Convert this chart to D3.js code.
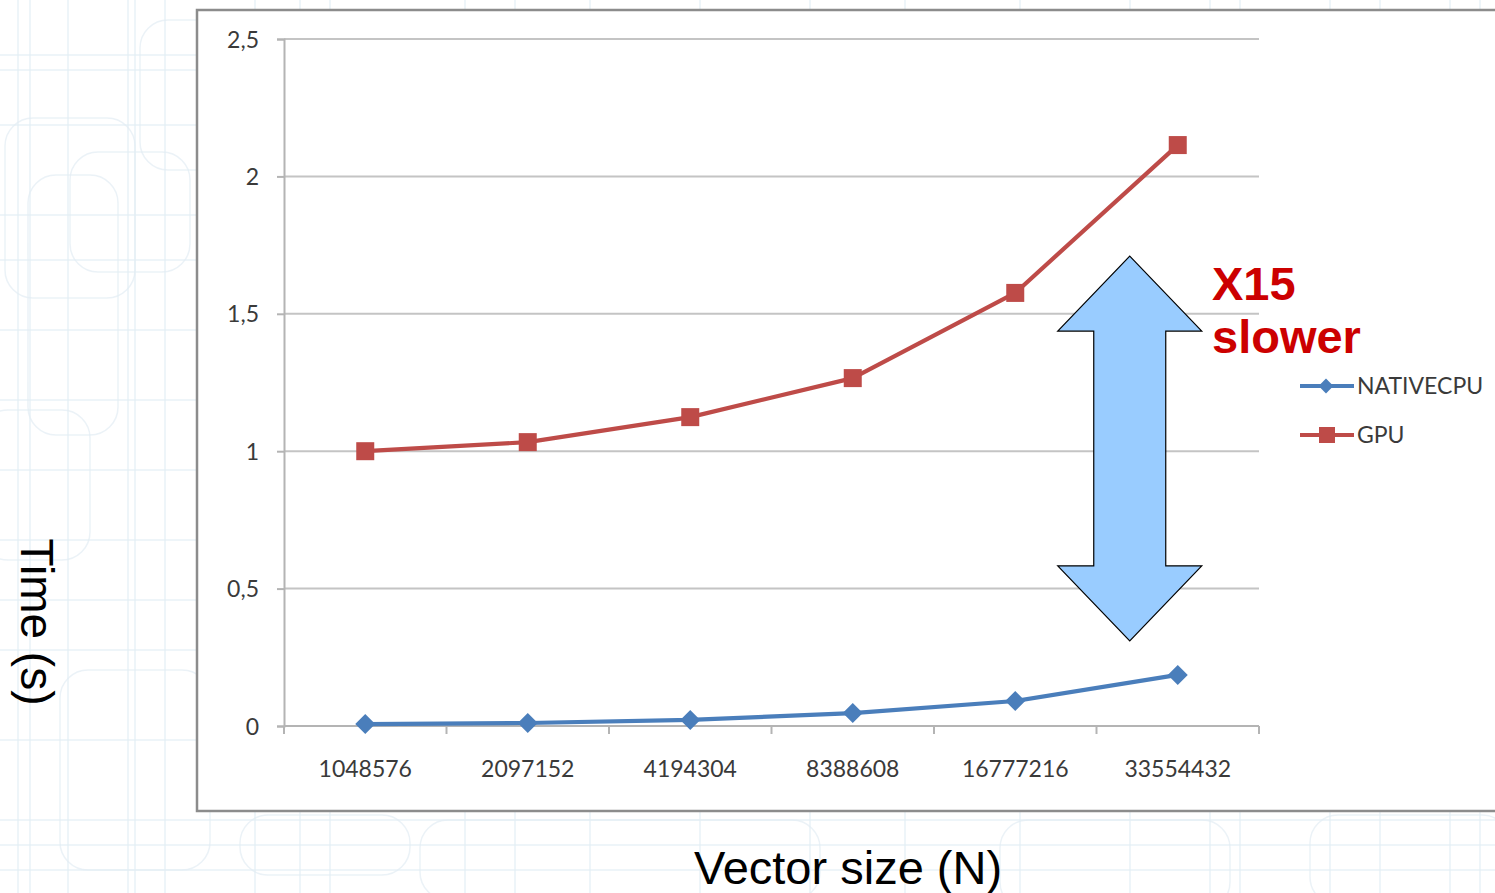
<!DOCTYPE html>
<html>
<head>
<meta charset="utf-8">
<script src="https://cdn.jsdelivr.net/npm/d3@7"></script>
<style>
  html, body { margin: 0; padding: 0; background: #ffffff; }
  svg { display: block; }
</style>
</head>
<body>
<svg id="chart" width="1495" height="893"></svg>
<script>
// Vector sizes (x categories) and measured run times in seconds
const categories = ["1048576", "2097152", "4194304", "8388608", "16777216", "33554432"];
const nativeCpu = [0.007, 0.011, 0.022, 0.047, 0.091, 0.186];
const gpu = [1.0, 1.033, 1.124, 1.266, 1.576, 2.114];
const yTicks = [0, 0.5, 1, 1.5, 2, 2.5];
const seriesNames = ["NATIVECPU", "GPU"];

const svg = d3.select("#chart");
const W = 1495, H = 893;

// ---- faint slide background pattern ----
const bg = svg.append("g").attr("fill", "none").attr("stroke", "#e2edf4").attr("stroke-width", 1.5);
const vLines = [18, 30, 68, 128, 135, 165, 255, 300, 330, 465, 515, 590, 700, 810, 905, 1020, 1130, 1210, 1240, 1330, 1380, 1450, 1480];
const hLines = [55, 70, 125, 215, 260, 330, 400, 470, 540, 600, 650, 740, 820, 845, 870];
vLines.forEach(x => bg.append("line").attr("x1", x).attr("x2", x).attr("y1", 0).attr("y2", H).attr("opacity", 0.75));
hLines.forEach(y => bg.append("line").attr("x1", 0).attr("x2", W).attr("y1", y).attr("y2", y).attr("opacity", 0.75));
const rounded = [[5, 118, 130, 180], [28, 175, 90, 260], [70, 152, 120, 120], [-20, 410, 110, 150], [60, 670, 150, 200],
                 [240, 815, 170, 60], [420, 820, 400, 80], [1000, 820, 230, 90], [1310, 815, 200, 90], [140, 20, 130, 150]];
rounded.forEach(r => bg.append("rect").attr("x", r[0]).attr("y", r[1]).attr("width", r[2]).attr("height", r[3]).attr("rx", 28).attr("opacity", 0.7));

// ---- chart frame ----
svg.append("rect")
  .attr("x", 197).attr("y", 10).attr("width", 1340).attr("height", 801)
  .attr("fill", "#ffffff").attr("stroke", "#8c8c8c").attr("stroke-width", 2.5);

// ---- scales ----
const x = d3.scaleBand().domain(categories).range([284, 1259]).padding(0);
const y = d3.scaleLinear().domain([0, 2.5]).range([726, 39]);
const cx = c => x(c) + x.bandwidth() / 2;

// gridlines
svg.append("g").selectAll("line").data(yTicks.filter(d => d > 0)).join("line")
  .attr("x1", 284).attr("x2", 1259)
  .attr("y1", d => y(d)).attr("y2", d => y(d))
  .attr("stroke", "#c4c4c4").attr("stroke-width", 2);

// y axis
const yAxis = svg.append("g").attr("transform", "translate(284,0)")
  .call(d3.axisLeft(y).tickValues(yTicks).tickSize(7).tickPadding(18)
    .tickFormat(d => String(d).replace(".", ",")));
yAxis.select(".domain").attr("stroke", "#b4b4b4").attr("stroke-width", 2);
yAxis.selectAll(".tick line").attr("stroke", "#b4b4b4").attr("stroke-width", 2);
yAxis.selectAll("text").attr("font-family", "Lato, 'Noto Sans', sans-serif").attr("font-size", 23)
  .attr("fill", "#3a3a3a").attr("dy", "0.35em");

// x axis with ticks between categories
const xAxis = svg.append("g").attr("transform", "translate(0,726)");
xAxis.append("line").attr("x1", 284).attr("x2", 1259).attr("y1", 0).attr("y2", 0)
  .attr("stroke", "#b4b4b4").attr("stroke-width", 2);
const boundaries = categories.map(c => x(c)).concat([x(categories[categories.length - 1]) + x.bandwidth()]);
xAxis.selectAll("line.tk").data(boundaries).join("line").attr("class", "tk")
  .attr("x1", d => d).attr("x2", d => d).attr("y1", 0).attr("y2", 8)
  .attr("stroke", "#b4b4b4").attr("stroke-width", 2);
xAxis.selectAll("text").data(categories).join("text")
  .attr("x", d => cx(d)).attr("y", 51)
  .attr("text-anchor", "middle")
  .attr("font-family", "Lato, 'Noto Sans', sans-serif").attr("font-size", 23)
  .attr("fill", "#3a3a3a").text(d => d);

// ---- series ----
const cpuColor = "#4a7ebb", gpuColor = "#be4b48";
const line = d3.line().x((d, i) => cx(categories[i])).y(d => y(d));

svg.append("path").datum(gpu).attr("d", line)
  .attr("fill", "none").attr("stroke", gpuColor).attr("stroke-width", 4.2).attr("stroke-linejoin", "round");
svg.append("g").selectAll("rect").data(gpu).join("rect")
  .attr("x", (d, i) => cx(categories[i]) - 9).attr("y", d => y(d) - 9)
  .attr("width", 18).attr("height", 18).attr("fill", gpuColor);

svg.append("path").datum(nativeCpu).attr("d", line)
  .attr("fill", "none").attr("stroke", cpuColor).attr("stroke-width", 4.2).attr("stroke-linejoin", "round");
const diamond = d3.symbol().type(d3.symbolSquare).size(200);
svg.append("g").selectAll("path").data(nativeCpu).join("path")
  .attr("d", diamond)
  .attr("transform", (d, i) => `translate(${cx(categories[i])},${y(d)}) rotate(45)`)
  .attr("fill", cpuColor);

// ---- legend ----
const legend = svg.append("g").attr("transform", "translate(1300,386)");
[[cpuColor, "diamond"], [gpuColor, "square"]].forEach((s, i) => {
  const g = legend.append("g").attr("transform", `translate(0,${i * 49})`);
  g.append("line").attr("x1", 0).attr("x2", 54).attr("y1", 0).attr("y2", 0)
    .attr("stroke", s[0]).attr("stroke-width", 4);
  if (s[1] === "diamond") {
    g.append("path").attr("d", d3.symbol().type(d3.symbolSquare).size(110))
      .attr("transform", "translate(26,0) rotate(45)").attr("fill", s[0]);
  } else {
    g.append("rect").attr("x", 19).attr("y", -8).attr("width", 16).attr("height", 16).attr("fill", s[0]);
  }
  g.append("text").attr("x", 57).attr("y", 0).attr("dy", "0.36em")
    .attr("font-family", "Lato, 'Noto Sans', sans-serif").attr("font-size", 23)
    .attr("fill", "#3a3a3a").text(seriesNames[i]);
});

// ---- double arrow annotation between the two series ----
const ax = cx(categories[categories.length - 1]) - 48;
const yTop = y(1.71), yBot = y(0.31);
const headH = 75, headW = 72, shaftW = 36;
const arrow = [
  [ax, yTop], [ax + headW, yTop + headH], [ax + shaftW, yTop + headH],
  [ax + shaftW, yBot - headH], [ax + headW, yBot - headH], [ax, yBot],
  [ax - headW, yBot - headH], [ax - shaftW, yBot - headH], [ax - shaftW, yTop + headH],
  [ax - headW, yTop + headH]
];
svg.append("path").attr("d", "M" + arrow.map(p => p.join(",")).join("L") + "Z")
  .attr("fill", "#99ccff").attr("stroke", "#000000").attr("stroke-width", 1.2).attr("stroke-linejoin", "miter");

const note = svg.append("text").attr("font-family", "'Liberation Sans', Arial, sans-serif")
  .attr("font-weight", "bold").attr("font-size", 47).attr("fill", "#cc0000");
note.append("tspan").attr("x", 1212).attr("y", 300).text("X15");
note.append("tspan").attr("x", 1212).attr("y", 353).text("slower");

// ---- axis titles ----
svg.append("text").attr("transform", "translate(21,622) rotate(90)")
  .attr("text-anchor", "middle")
  .attr("font-family", "'Liberation Sans', Arial, sans-serif").attr("font-size", 46)
  .attr("fill", "#000000").text("Time (s)");
svg.append("text").attr("x", 848).attr("y", 884).attr("text-anchor", "middle")
  .attr("font-family", "'Liberation Sans', Arial, sans-serif").attr("font-size", 47)
  .attr("fill", "#000000").text("Vector size (N)");
</script>
</body>
</html>
